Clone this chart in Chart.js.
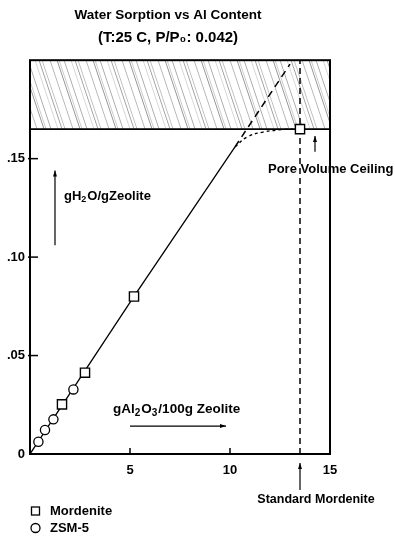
<!DOCTYPE html>
<html>
<head>
<meta charset="utf-8">
<script src="https://cdn.jsdelivr.net/npm/chart.js@4.4.1/dist/chart.umd.min.js"></script>
<style>
  html, body { margin: 0; padding: 0; background: #fff; }
  #wrap { width: 395px; height: 536px; position: relative; }
</style>
</head>
<body>
<div id="wrap"><canvas id="chartSorption"></canvas></div>
<script>
// measured values (g Al2O3 / 100 g zeolite vs g H2O / g zeolite)
const mordeniteX = [1.6, 2.75, 5.2, 13.5];
const mordeniteY = [0.0252, 0.0413, 0.080, 0.165];
const zsmX = [0.42, 0.75, 1.17, 2.17];
const zsmY = [0.0062, 0.0122, 0.0176, 0.0328];
// drawn curves
const fitX = [0, 5.2, 10.25];
const fitY = [0, 0.080, 0.156];
const extX = [10.25, 13.0];
const extY = [0.156, 0.198];
const bendX = [10.25, 10.85, 11.65, 12.65, 13.3];
const bendY = [0.156, 0.161, 0.1635, 0.1648, 0.165];
const ceilingY = 0.165;
const standardX = 13.5;
// axes
const xTicks = [5, 10, 15];
const yTicks = [0, 0.05, 0.10, 0.15];
const yTickLabels = ['0', '.05', '.10', '.15'];

const FONT = '"Liberation Sans", Arial, sans-serif';
const pts = (xs, ys) => xs.map((v, i) => ({ x: v, y: ys[i] }));

function makeHatch() {
    const c = document.createElement('canvas');
    c.width = 36; c.height = 108;
    const g = c.getContext('2d');
    const offsets = [1, 3, 8, 15, 19, 22, 30];
    const shades = [0.5, 0.25, 0.4, 0.2, 0.45, 0.3, 0.35];
    offsets.forEach((o, i) => {
        g.strokeStyle = 'rgba(0,0,0,' + shades[i] + ')';
        g.lineWidth = 0.8;
        [-36, 0, 36].forEach(s => {
            g.beginPath();
            g.moveTo(o + s, 0);
            g.lineTo(o + s + 36, 108);
            g.stroke();
        });
    });
    return g.createPattern(c, 'repeat');
}

function drawRich(ctx, parts, x, y, size) {
    let cx = x;
    parts.forEach(([t, sub]) => {
        ctx.font = 'bold ' + (sub ? Math.round(size * 0.72) : size) + 'px ' + FONT;
        ctx.fillText(t, cx, sub ? y + size * 0.3 : y);
        cx += ctx.measureText(t).width + (sub ? 1 : 0);
    });
    return cx;
}

function arrow(ctx, x1, y1, x2, y2) {
    const ang = Math.atan2(y2 - y1, x2 - x1);
    ctx.beginPath();
    ctx.moveTo(x1, y1);
    ctx.lineTo(x2, y2);
    ctx.stroke();
    ctx.beginPath();
    ctx.moveTo(x2, y2);
    ctx.lineTo(x2 - 6 * Math.cos(ang) + 2 * Math.sin(ang), y2 - 6 * Math.sin(ang) - 2 * Math.cos(ang));
    ctx.lineTo(x2 - 6 * Math.cos(ang) - 2 * Math.sin(ang), y2 - 6 * Math.sin(ang) + 2 * Math.cos(ang));
    ctx.closePath();
    ctx.fill();
}

const notes = {
    id: 'notes',
    afterDraw(chart) {
        const { ctx, chartArea: a, scales: { x, y } } = chart;
        ctx.save();
        ctx.strokeStyle = '#000';
        ctx.fillStyle = '#000';

        // frame
        ctx.lineWidth = 2;
        ctx.strokeRect(a.left, a.top, a.right - a.left, a.bottom - a.top);

        // inward ticks
        ctx.lineWidth = 1.5;
        xTicks.slice(0, 2).forEach(v => {
            const px = x.getPixelForValue(v);
            ctx.beginPath(); ctx.moveTo(px, a.bottom); ctx.lineTo(px, a.bottom - 6); ctx.stroke();
        });
        yTicks.slice(1).forEach(v => {
            const py = y.getPixelForValue(v);
            ctx.beginPath(); ctx.moveTo(a.left - 2, py); ctx.lineTo(a.left + 8, py); ctx.stroke();
        });

        ctx.textBaseline = 'middle';
        ctx.textAlign = 'left';
        ctx.lineWidth = 1.2;

        // y quantity
        drawRich(ctx, [['gH'], ['2', true], ['O/gZeolite']], x.getPixelForValue(1.7), y.getPixelForValue(0.131), 13);
        arrow(ctx, x.getPixelForValue(1.25), y.getPixelForValue(0.106), x.getPixelForValue(1.25), y.getPixelForValue(0.144));

        // x quantity
        drawRich(ctx, [['gAl'], ['2', true], ['O'], ['3', true], ['/100g Zeolite']], x.getPixelForValue(4.15), y.getPixelForValue(0.0228), 13.5);
        arrow(ctx, x.getPixelForValue(5.0), y.getPixelForValue(0.0142), x.getPixelForValue(9.8), y.getPixelForValue(0.0142));

        // ceiling note
        drawRich(ctx, [['Pore Volume Ceiling']], x.getPixelForValue(11.9), y.getPixelForValue(0.1447), 13);
        arrow(ctx, x.getPixelForValue(14.25), y.getPixelForValue(0.1535), x.getPixelForValue(14.25), y.getPixelForValue(0.1615));

        // standard mordenite
        const sx = x.getPixelForValue(standardX);
        ctx.textAlign = 'center';
        ctx.font = 'bold 12.5px ' + FONT;
        ctx.fillText('Standard Mordenite', sx + 16, a.bottom + 46);
        arrow(ctx, sx, a.bottom + 36, sx, a.bottom + 9);

        // legend
        ctx.textAlign = 'left';
        ctx.lineWidth = 1.3;
        ctx.font = 'bold 13px ' + FONT;
        ctx.strokeRect(a.left + 1.5, a.bottom + 53, 8, 8);
        ctx.fillText('Mordenite', a.left + 20, a.bottom + 57);
        ctx.beginPath();
        ctx.arc(a.left + 5.5, a.bottom + 74, 4.5, 0, Math.PI * 2);
        ctx.stroke();
        ctx.fillText('ZSM-5', a.left + 20, a.bottom + 74);

        ctx.restore();
    }
};

new Chart(document.getElementById('chartSorption'), {
    type: 'scatter',
    data: {
        datasets: [
            {
                label: 'Mordenite',
                data: pts(mordeniteX, mordeniteY),
                pointStyle: 'rect',
                pointRadius: 6.5,
                pointBackgroundColor: '#fff',
                pointBorderColor: '#000',
                pointBorderWidth: 1.4
            },
            {
                label: 'ZSM-5',
                data: pts(zsmX, zsmY),
                pointStyle: 'circle',
                pointRadius: 4.6,
                pointBackgroundColor: '#fff',
                pointBorderColor: '#000',
                pointBorderWidth: 1.3
            },
            {
                label: 'fit',
                data: pts(fitX, fitY),
                showLine: true,
                borderColor: '#000',
                borderWidth: 1.3,
                pointRadius: 0
            },
            {
                label: 'extension',
                data: pts(extX, extY),
                showLine: true,
                borderColor: '#000',
                borderWidth: 1.5,
                borderDash: [7, 5],
                pointRadius: 0
            },
            {
                label: 'bend',
                data: pts(bendX, bendY),
                showLine: true,
                tension: 0.4,
                borderColor: '#000',
                borderWidth: 1.4,
                borderDash: [3, 3],
                pointRadius: 0
            },
            {
                label: 'standard',
                data: [{ x: standardX, y: 0 }, { x: standardX, y: 0.2 }],
                showLine: true,
                borderColor: '#000',
                borderWidth: 1.5,
                borderDash: [6, 4],
                pointRadius: 0
            },
            {
                label: 'ceiling',
                data: [{ x: 0, y: ceilingY }, { x: 15, y: ceilingY }],
                showLine: true,
                borderColor: '#000',
                borderWidth: 1.8,
                pointRadius: 0
            },
            {
                label: 'hatch',
                data: [{ x: 0, y: 0.2 }, { x: 15, y: 0.2 }],
                showLine: true,
                borderWidth: 0,
                borderColor: 'rgba(0,0,0,0)',
                backgroundColor: makeHatch(),
                fill: { value: ceilingY },
                pointRadius: 0
            }
        ]
    },
    options: {
        responsive: true,
        maintainAspectRatio: false,
        animation: false,
        layout: { padding: { left: 6, right: 65, top: 0, bottom: 0 } },
        scales: {
            x: {
                type: 'linear',
                min: 0,
                max: 15,
                afterBuildTicks: s => { s.ticks = xTicks.map(v => ({ value: v })); },
                afterFit: s => { s.height = 82; },
                grid: { display: false, drawTicks: false },
                border: { display: false },
                ticks: {
                    padding: 9,
                    color: '#000',
                    font: { family: FONT, size: 13, weight: 'bold' }
                }
            },
            y: {
                min: 0,
                max: 0.2,
                afterBuildTicks: s => { s.ticks = yTicks.map(v => ({ value: v })); },
                afterFit: s => { s.width = 24; },
                grid: { display: false, drawTicks: false },
                border: { display: false },
                ticks: {
                    padding: 5,
                    color: '#000',
                    font: { family: FONT, size: 13, weight: 'bold' },
                    callback: (v, i) => yTickLabels[i]
                }
            }
        },
        plugins: {
            legend: { display: false },
            tooltip: { enabled: false },
            title: {
                display: true,
                text: 'Water Sorption vs Al Content',
                color: '#000',
                font: { family: FONT, size: 13.5, weight: 'bold' },
                padding: { top: 7, bottom: 6 }
            },
            subtitle: {
                display: true,
                text: '(T:25 C, P/P\u2080: 0.042)',
                color: '#000',
                font: { family: FONT, size: 15, weight: 'bold' },
                padding: { top: 0, bottom: 13 }
            }
        }
    },
    plugins: [notes]
});
</script>
</body>
</html>
